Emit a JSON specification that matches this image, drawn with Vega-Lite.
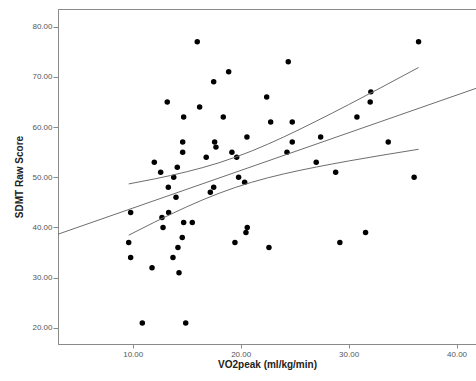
{
  "$schema": "https://vega.github.io/schema/vega-lite/v6.json",
  "width": 418,
  "height": 335,
  "autosize": "none",
  "padding": {"left": 58, "top": 9, "right": 0, "bottom": 37},
  "background": "white",
  "config": {
    "view": {"stroke": "#8a8a8a", "strokeWidth": 1},
    "font": "Liberation Sans",
    "axis": {
      "grid": false,
      "domainColor": "#8a8a8a",
      "tickColor": "#8a8a8a",
      "labelColor": "#555555",
      "labelFontSize": 8,
      "labelFont": "Liberation Sans",
      "titleFont": "Liberation Sans",
      "titleFontSize": 10,
      "titleFontWeight": "bold",
      "titleColor": "#222222"
    }
  },
  "datasets": {
    "points": [
      {"vo2": 15.98, "sdmt": 77}, {"vo2": 24.41, "sdmt": 73}, {"vo2": 18.89, "sdmt": 71}, {"vo2": 17.5, "sdmt": 69},
      {"vo2": 13.2, "sdmt": 65}, {"vo2": 22.41, "sdmt": 66}, {"vo2": 16.2, "sdmt": 64}, {"vo2": 14.72, "sdmt": 62},
      {"vo2": 18.39, "sdmt": 62}, {"vo2": 22.78, "sdmt": 61}, {"vo2": 24.78, "sdmt": 61}, {"vo2": 14.63, "sdmt": 57},
      {"vo2": 17.59, "sdmt": 57}, {"vo2": 17.71, "sdmt": 56}, {"vo2": 20.58, "sdmt": 58}, {"vo2": 14.63, "sdmt": 55},
      {"vo2": 19.19, "sdmt": 55}, {"vo2": 19.63, "sdmt": 54}, {"vo2": 16.81, "sdmt": 54}, {"vo2": 12.0, "sdmt": 53},
      {"vo2": 14.13, "sdmt": 52}, {"vo2": 12.59, "sdmt": 51}, {"vo2": 13.8, "sdmt": 50}, {"vo2": 24.29, "sdmt": 55},
      {"vo2": 19.81, "sdmt": 50}, {"vo2": 20.37, "sdmt": 49}, {"vo2": 13.3, "sdmt": 48}, {"vo2": 17.5, "sdmt": 48},
      {"vo2": 14.01, "sdmt": 46}, {"vo2": 17.19, "sdmt": 47}, {"vo2": 9.81, "sdmt": 43}, {"vo2": 13.33, "sdmt": 43},
      {"vo2": 12.71, "sdmt": 42}, {"vo2": 12.81, "sdmt": 40}, {"vo2": 14.72, "sdmt": 41}, {"vo2": 15.52, "sdmt": 41},
      {"vo2": 20.61, "sdmt": 40}, {"vo2": 20.49, "sdmt": 39}, {"vo2": 9.63, "sdmt": 37}, {"vo2": 14.59, "sdmt": 38},
      {"vo2": 19.47, "sdmt": 37}, {"vo2": 14.19, "sdmt": 36}, {"vo2": 22.62, "sdmt": 36}, {"vo2": 9.81, "sdmt": 34},
      {"vo2": 13.73, "sdmt": 34}, {"vo2": 11.79, "sdmt": 32}, {"vo2": 14.29, "sdmt": 31}, {"vo2": 10.89, "sdmt": 21},
      {"vo2": 14.91, "sdmt": 21}, {"vo2": 36.48, "sdmt": 77}, {"vo2": 32.06, "sdmt": 67}, {"vo2": 32.0, "sdmt": 65},
      {"vo2": 30.77, "sdmt": 62}, {"vo2": 27.41, "sdmt": 58}, {"vo2": 24.78, "sdmt": 57}, {"vo2": 33.67, "sdmt": 57},
      {"vo2": 27.0, "sdmt": 53}, {"vo2": 28.8, "sdmt": 51}, {"vo2": 36.07, "sdmt": 50}, {"vo2": 31.57, "sdmt": 39},
      {"vo2": 29.19, "sdmt": 37}
    ],
    "fit": [
      {"vo2": 3.08, "sdmt": 38.66}, {"vo2": 41.8, "sdmt": 67.7}
    ],
    "ci": [
      {"vo2": 9.63, "hi": 48.67, "lo": 38.47},
      {"vo2": 12, "hi": 49.66, "lo": 41.04},
      {"vo2": 15, "hi": 51.09, "lo": 44.11},
      {"vo2": 18, "hi": 52.89, "lo": 46.81},
      {"vo2": 21, "hi": 55.21, "lo": 48.99},
      {"vo2": 24, "hi": 58.03, "lo": 50.67},
      {"vo2": 27, "hi": 61.17, "lo": 52.03},
      {"vo2": 30, "hi": 64.46, "lo": 53.24},
      {"vo2": 33, "hi": 67.85, "lo": 54.35},
      {"vo2": 36.48, "hi": 71.85, "lo": 55.57}
    ]
  },
  "layer": [
    {
      "data": {"name": "points"},
      "mark": {"type": "circle", "size": 30, "color": "black", "opacity": 1},
      "encoding": {
        "x": {
          "field": "vo2", "type": "quantitative",
          "scale": {"domain": [3.08, 41.8], "nice": false, "zero": false},
          "axis": {"orient": "bottom", "title": "VO2peak (ml/kg/min)", "values": [10, 20, 30, 40], "format": ".2f", "tickSize": 4, "labelPadding": 2, "titlePadding": 1}
        },
        "y": {
          "field": "sdmt", "type": "quantitative",
          "scale": {"domain": [16.8, 83.5], "nice": false, "zero": false},
          "axis": {"orient": "left", "title": "SDMT Raw Score", "values": [20, 30, 40, 50, 60, 70, 80], "format": ".2f", "tickSize": 5, "labelPadding": 1, "titlePadding": 7}
        }
      }
    },
    {
      "data": {"name": "fit"},
      "mark": {"type": "line", "color": "#6e6e6e", "strokeWidth": 1, "clip": true},
      "encoding": {
        "x": {"field": "vo2", "type": "quantitative"},
        "y": {"field": "sdmt", "type": "quantitative"}
      }
    },
    {
      "data": {"name": "ci"},
      "mark": {"type": "line", "color": "#6e6e6e", "strokeWidth": 1, "interpolate": "monotone"},
      "encoding": {
        "x": {"field": "vo2", "type": "quantitative"},
        "y": {"field": "hi", "type": "quantitative"}
      }
    },
    {
      "data": {"name": "ci"},
      "mark": {"type": "line", "color": "#6e6e6e", "strokeWidth": 1, "interpolate": "monotone"},
      "encoding": {
        "x": {"field": "vo2", "type": "quantitative"},
        "y": {"field": "lo", "type": "quantitative"}
      }
    }
  ]
}
